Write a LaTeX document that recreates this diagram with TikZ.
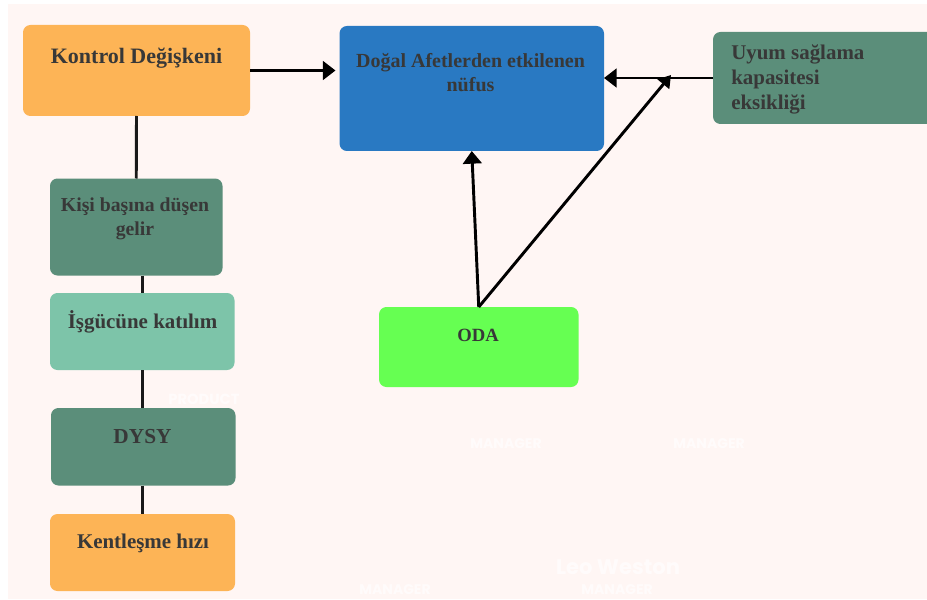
\documentclass[tikz,border=0pt]{standalone}
\usepackage{fontspec}
\setmainfont{Liberation Serif}
\newfontfamily\popp{Poppins}
\usetikzlibrary{arrows.meta}
\definecolor{bgpink}{HTML}{FFF6F4}
\definecolor{orangebox}{HTML}{FDB456}
\definecolor{darkgreen}{HTML}{5B8E7A}
\definecolor{lightgreen}{HTML}{7DC4A9}
\definecolor{bluebox}{HTML}{2979C2}
\definecolor{limebox}{HTML}{66FF52}
\definecolor{txt}{HTML}{383838}
\tikzset{
  x=0.75pt,y=-0.75pt,
  boxnode/.style={draw=none,inner sep=0pt,outer sep=0pt},
  boxtext/.style={font=\bfseries\fontsize{#1}{18pt}\selectfont,text=txt,align=center,inner sep=0pt},
  ghost/.style={font=\popp\bfseries\fontsize{10.5pt}{12pt}\selectfont,text=white,inner sep=0pt,opacity=0.65},
  plainline/.style={line width=2.2pt,draw=black!90},
  arrowline/.style={line width=2.2pt,draw=black,-{Triangle[length=9.5pt,width=14pt]}}
}
\newcommand{\boxat}[6]{% name, color, x1,y1,x2,y2
  \fill[#2,rounded corners=5.6pt] (#3,#4) rectangle (#5,#6);
  \coordinate (#1c) at ({(#3+#5)/2},{(#4+#6)/2});
  \node[boxnode,minimum width={(#5-#3)*0.75pt},minimum height={(#6-#4)*0.75pt}] (#1) at (#1c) {};
}
\begin{document}
\begin{tikzpicture}
\useasboundingbox (0,0) rectangle (927,599);
\clip (0,0) rectangle (927,599);
\fill[white] (0,0) rectangle (927,599);
\fill[bgpink] (8,4) rectangle (927,599);

\boxat{kontrol}{orangebox}{23}{25}{250}{116}
\boxat{dogal}{bluebox}{339.5}{26}{604}{151}
\boxat{uyum}{darkgreen}{713}{32}{935}{124}
\boxat{kisi}{darkgreen}{50}{178.5}{222.5}{275.5}
\boxat{isgucu}{lightgreen}{50}{293}{234.5}{370}
\boxat{dysy}{darkgreen}{51}{408}{235.5}{485.5}
\boxat{kent}{orangebox}{50}{514}{235}{591}
\boxat{oda}{limebox}{379}{307}{578.5}{387}

\node[boxtext=16.5pt] (t1) at (136.5,58.5) {Kontrol Değişkeni};
\node[boxtext=15pt] (t2) at (470.5,72.5) {Doğal Afetlerden etkilenen\\nüfus};
\node[boxtext=15.7pt,align=left,anchor=west,font=\bfseries\fontsize{15.7pt}{19pt}\selectfont] (t3) at (731,79.5) {Uyum sağlama\\kapasitesi\\eksikliği};
\node[boxtext=14.8pt] (t4) at (135,219) {Kişi başına düşen\\gelir};
\node[boxtext=15.7pt] (t5) at (142.5,322) {İşgücüne katılım};
\node[boxtext=16pt] (t6) at (142.5,436.5) {DYSY};
\node[boxtext=15.7pt] (t7) at (143,543) {Kentleşme hızı};
\node[boxtext=14pt] (t8) at (478,335) {ODA};

\node[ghost,font=\popp\bfseries\fontsize{11pt}{12pt}\selectfont] (g1) at (204,399) {PRODUCT};
\node[ghost] (g2) at (506,444) {MANAGER};
\node[ghost] (g3) at (709,444) {MANAGER};
\node[ghost] (g4) at (395,590) {MANAGER};
\node[ghost] (g5) at (617,590) {MANAGER};
\node[ghost,font=\popp\bfseries\fontsize{15.8pt}{16pt}\selectfont] (g6) at (618,567) {Leo Weston};

\coordinate (junction) at (671,75);
\draw[plainline] (kontrol.south) -- (kisi.north);
\draw[plainline] (isgucu.north |- kisi.south) -- (isgucu.north);
\draw[plainline] (isgucu.south) -- (isgucu.south |- dysy.north);
\draw[plainline] (isgucu.south |- dysy.south) -- (isgucu.south |- kent.north);
\draw[arrowline,shorten >=3pt] (kontrol.east) -- (dogal.west |- kontrol.east);
\draw[arrowline] (uyum.west) -- (dogal.east |- uyum.west);
\draw[arrowline] (oda.north) -- (dogal.south);
\draw[arrowline,-{Triangle[length=9pt,width=11pt]}] (oda.north) -- (junction);
\end{tikzpicture}
\end{document}
